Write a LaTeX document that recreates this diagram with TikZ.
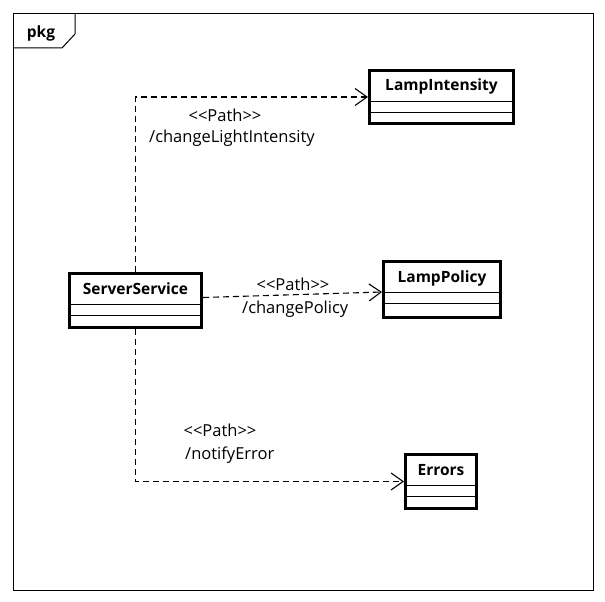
\documentclass[tikz,border=0pt]{standalone}
\usepackage{fontspec}
\setmainfont{Open Sans}[Ligatures=TeXOff]
\usetikzlibrary{arrows.meta,calc}
\begin{document}
\begin{tikzpicture}[x=1pt,y=-1pt,
  classbox/.style={draw,line width=3pt,inner sep=0pt,fill=white},
  cname/.style={font=\bfseries\fontsize{15.5}{18}\selectfont,inner sep=0pt,anchor=base},
  lbl/.style={font=\fontsize{16.5}{19}\selectfont,inner sep=0pt,anchor=base west},
  dep/.style={line width=1.1pt,dash pattern=on 6pt off 4pt,-{Straight Barb[length=12pt,width=17pt,line width=1.1pt]}},
  sep/.style={line width=0.8pt}]
\useasboundingbox (0,0) rectangle (605,602);
% package frame
\draw[line width=1pt] (13,14) rectangle (593,590);
\draw[line width=1pt] (13,48) -- (62,48) -- (75,34) -- (75,14);
\node[font=\bfseries\fontsize{15.5}{18}\selectfont,inner sep=0pt,anchor=base] (pkg) at (41,38) {pkg};
% classes
\node[classbox,minimum width=132pt,minimum height=54pt] (ss) at (135.5,300.5) {};
\node[classbox,minimum width=144pt,minimum height=53pt] (li) at (441.5,97) {};
\node[classbox,minimum width=117pt,minimum height=56pt] (lp) at (442,289.5) {};
\node[classbox,minimum width=71pt,minimum height=54pt] (er) at (441,481.5) {};
\foreach \b/\t in {ss/ServerService,li/LampIntensity,lp/LampPolicy,er/Errors}{
  \node[cname] at ($(\b.north)+(0,22)$) {\t};
  \draw[sep] ($(\b.north west)+(0,32)$) -- ($(\b.north east)+(0,32)$);
  \draw[sep] ($(\b.north west)+(0,43)$) -- ($(\b.north east)+(0,43)$);
}
% connectors
\draw[dep] (ss.north) |- (li.west);
\draw[dep] ($(ss.east)+(0,-3)$) -- ($(lp.west)+(0,2.5)$);
\draw[dep] (ss.south) |- (er.west);
% labels
\node[lbl,anchor=base] (l1a) at (225,121) {<<Path>>};
\node[lbl] (l1b) at (149,142) {/changeLightIntensity};
\node[lbl,anchor=base] (l2a) at (293,290) {<<Path>>};
\node[lbl] (l2b) at (242,313) {/changePolicy};
\node[lbl,anchor=base] (l3a) at (220,436) {<<Path>>};
\node[lbl] (l3b) at (185,459) {/notifyError};
\end{tikzpicture}
\end{document}
